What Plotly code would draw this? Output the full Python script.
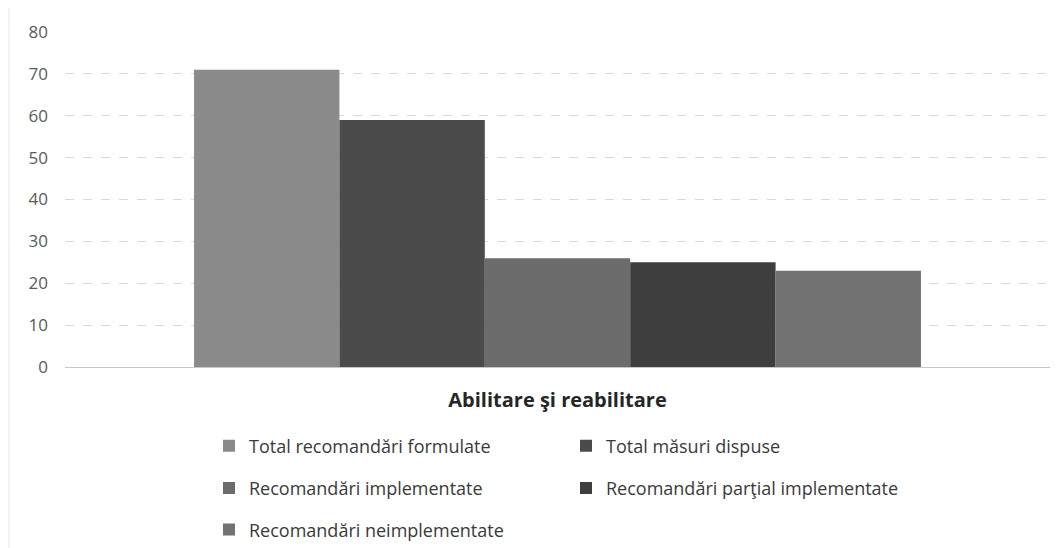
import plotly.graph_objects as go

category = ["Abilitare şi reabilitare"]
series_names = [
    "Total recomandări formulate",
    "Total măsuri dispuse",
    "Recomandări implementate",
    "Recomandări parţial implementate",
    "Recomandări neimplementate",
]
values = [71, 59, 26, 25, 23]
colors = ["#8a8a8a", "#4b4b4b", "#6c6c6c", "#3e3e3e", "#727272"]
legend_ids = ["legend", "legend", "legend2", "legend2", "legend3"]

fig = go.Figure()
for name, v, c, lg in zip(series_names, values, colors, legend_ids):
    fig.add_trace(go.Bar(x=category, y=[v], name=name, marker=dict(color=c, line=dict(width=0)),
                         legend=lg))

leg_common = dict(orientation="h", xanchor="left", yanchor="middle", entrywidth=312,
                  entrywidthmode="pixels", font=dict(family="Open Sans", size=18, color="#3a3a3a"),
                  itemwidth=30, tracegroupgap=0, bgcolor="rgba(0,0,0,0)")
lx = (209 - 65) / 985
fig.update_layout(
    width=1054, height=540,
    paper_bgcolor="white", plot_bgcolor="white",
    margin=dict(l=57, r=12, t=24, b=181, autoexpand=False),
    barmode="group", bargap=0.262, bargroupgap=0,
    showlegend=True,
    legend=dict(x=lx, y=-0.236, **leg_common),
    legend2=dict(x=lx, y=-0.362, **leg_common),
    legend3=dict(x=lx, y=-0.486, **leg_common),
    xaxis=dict(showgrid=False, showline=True, linecolor="#c8c8c8", linewidth=1, automargin=False,
               ticks="", ticklabelstandoff=15,
               tickfont=dict(family="Open Sans", size=20, color="#262626", weight="bold")),
    yaxis=dict(range=[0, 80], dtick=10, showgrid=True, gridcolor="#d9d9d9", griddash="dash",
               gridwidth=1, zeroline=False, showline=False, ticks="", ticklabelstandoff=16,
               automargin=False,
               tickfont=dict(family="Open Sans", size=17, color="#5a5a5a")),
)
fig.add_shape(type="line", xref="paper", yref="paper", x0=-56 / 985, x1=-56 / 985, y0=-0.6, y1=1.1,
              line=dict(color="#e6e6e6", width=1))
fig.write_html("out.html")
